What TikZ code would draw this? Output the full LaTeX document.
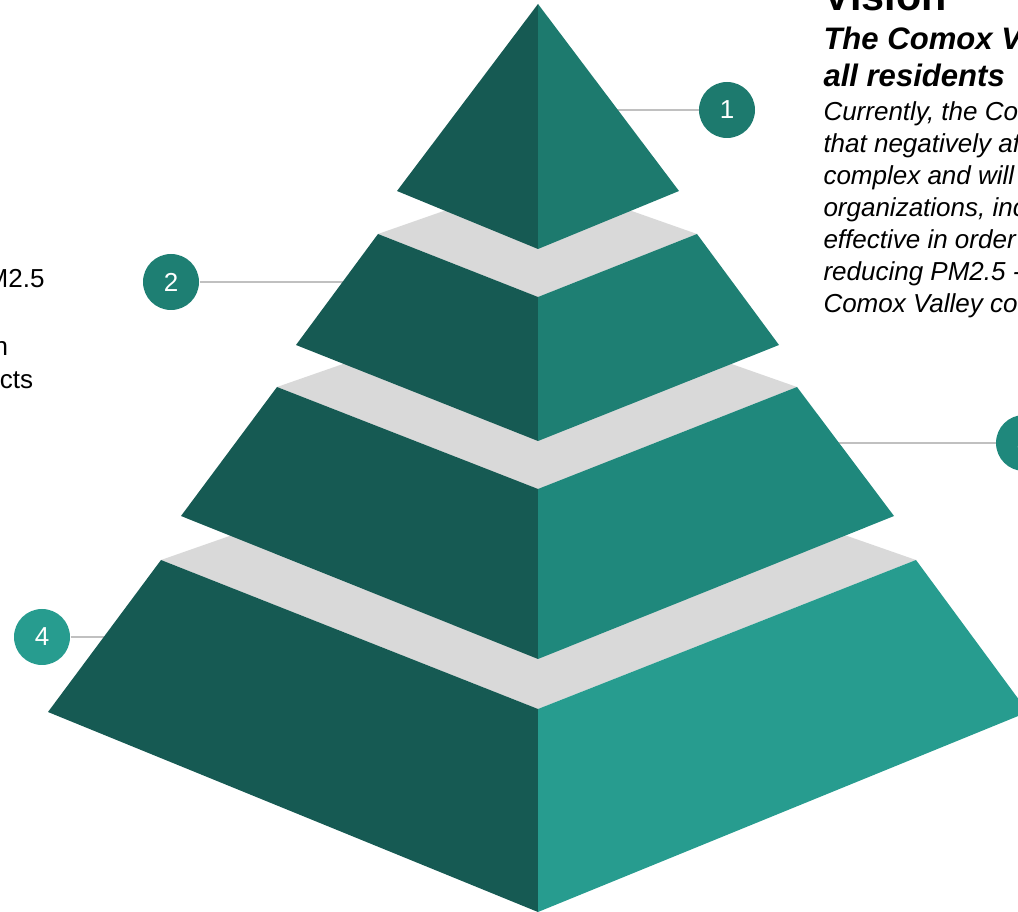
\documentclass[tikz,border=0pt]{standalone}
\usepackage{fontspec}
\setmainfont{Liberation Sans}
\definecolor{tierdark}{RGB}{22,90,83}
\definecolor{tierone}{RGB}{29,122,110}
\definecolor{tiertwo}{RGB}{30,127,115}
\definecolor{tierthree}{RGB}{31,136,124}
\definecolor{tierfour}{RGB}{39,156,143}
\definecolor{stepgray}{RGB}{217,217,217}
\definecolor{leadgray}{RGB}{192,192,192}
\tikzset{
numdot/.style={circle, minimum size=42pt, inner sep=0pt, text=white, font=\fontsize{19.5}{24}\selectfont},
leadline/.style={draw=leadgray, line width=1.5pt},
bodytext/.style={anchor=base west, inner sep=0pt, font=\fontsize{19.5}{24}\selectfont\itshape},
headtext/.style={anchor=base west, inner sep=0pt, font=\fontsize{23.3}{28}\selectfont\bfseries\itshape},
sidetext/.style={anchor=base east, inner sep=0pt, font=\fontsize{19.5}{24}\selectfont}}
\tikzset{every picture/.style={line width=0.75pt}}

\begin{document}
\begin{tikzpicture}[x=0.75pt,y=0.75pt,yscale=-1,xscale=1]
\useasboundingbox (0,0) rectangle (1018,912);
\clip (0,0) rectangle (1018,912);

%Number circles
\node [numdot, fill=tierone] (c1) at (727,110) {1};
\node [numdot, fill=tiertwo] (c2) at (171,282) {2};
\node [numdot, fill=tierthree] (c3) at (1024,443) {3};
\node [numdot, fill=tierfour] (c4) at (42,637) {4};
\coordinate (e1) at (600,110);
\coordinate (e2) at (360,282);
\coordinate (e3) at (820,443);
\coordinate (e4) at (120,637);
%Leader lines
\draw [leadline] (c1.west) -- (e1);
\draw [leadline] (c2.east) -- (e2);
\draw [leadline] (c3.west) -- (e3);
\draw [leadline] (c4.east) -- (e4);

%Shape: Tier 4
\fill [stepgray] (161,560) -- (538,428) -- (916,560) -- (538,709) -- cycle;
\fill [tierdark] (161,560) -- (538,709) -- (538,912) -- (48,712) -- cycle;
\fill [tierfour] (538,709) -- (916,560) -- (1028,712) -- (538,912) -- cycle;
%Shape: Tier 3
\fill [stepgray] (277,387) -- (538,296) -- (797,387) -- (538,489) -- cycle;
\fill [tierdark] (277,387) -- (538,489) -- (538,659) -- (181,516) -- cycle;
\fill [tierthree] (538,489) -- (797,387) -- (894,516) -- (538,659) -- cycle;
%Shape: Tier 2
\fill [stepgray] (378,234) -- (538,178) -- (697,234) -- (538,297) -- cycle;
\fill [tierdark] (378,234) -- (538,297) -- (538,441) -- (296,345) -- cycle;
\fill [tiertwo] (538,297) -- (697,234) -- (779,345) -- (538,441) -- cycle;
%Shape: Tier 1
\fill [tierdark] (538,4) -- (397,191) -- (538,249) -- cycle;
\fill [tierone] (538,4) -- (538,249) -- (679,191) -- cycle;

% Text Node
\node [anchor=base west, inner sep=0pt, font=\fontsize{31}{36}\selectfont\bfseries] (vis) at (823,11) {Vision};
% Text Node
\node [headtext] (h1) at (823,50) {The Comox V};
\node [headtext] (h2) at (823,87) {all residents};
% Text Node
\node [bodytext] (b1) at (823,121) {Currently, the Co};
\node [bodytext] (b2) at (823,153) {that negatively af};
\node [bodytext] (b3) at (823,185) {complex and will};
\node [bodytext] (b4) at (823,217) {organizations, inc};
\node [bodytext] (b5) at (823,249) {effective in order};
\node [bodytext] (b6) at (823,281) {reducing PM2.5 -};
\node [bodytext] (b7) at (823,313) {Comox Valley co};
% Text Node
\node [sidetext] (s1) at (45,288) {M2.5};
\node [sidetext] (s2) at (8.5,356) {n};
\node [sidetext] (s3) at (33.5,389) {cts};

\end{tikzpicture}
\end{document}
